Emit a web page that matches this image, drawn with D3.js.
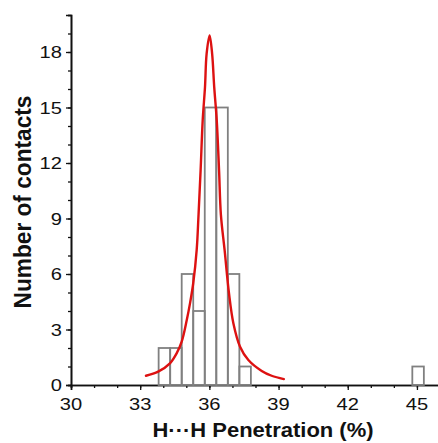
<!DOCTYPE html>
<html>
<head>
<meta charset="utf-8">
<script src="https://cdn.jsdelivr.net/npm/d3@7"></script>
<style>
  html, body { margin: 0; padding: 0; background: #fff; }
  svg { display: block; }
  text { font-family: "Liberation Sans", Arial, Helvetica, sans-serif; fill: #111; }
</style>
</head>
<body>
<svg id="chart" width="438" height="443"></svg>
<script>
// ---- data ----
const binStart = [33.3, 33.8, 34.3, 34.8, 35.3, 35.8, 36.3, 36.8, 37.3, 37.8, 38.3, 38.8,
                  39.3, 39.8, 40.3, 40.8, 41.3, 41.8, 42.3, 42.8, 43.3, 43.8, 44.3, 44.8];
const binWidth = 0.5;
const counts   = [0, 2, 2, 6, 4, 15, 15, 6, 1, 0, 0, 0,
                  0, 0, 0, 0, 0, 0, 0, 0, 0, 0, 0, 1];
const fitX = [33.25, 33.78, 34.29, 34.58, 34.80, 35.02, 35.16, 35.30, 35.45, 35.53, 35.62, 35.71,
              35.81, 35.88, 36.01, 36.12, 36.21, 36.32, 36.42, 36.50, 36.66, 36.85, 37.04, 37.33,
              37.69, 38.27, 38.70, 39.23];
const fitY = [0.50, 0.72, 1.17, 1.71, 2.34, 3.51, 4.41, 5.50, 7.30, 9.20, 11.6, 14.3,
              16.1, 17.9, 18.9, 17.9, 16.1, 14.3, 11.6, 9.20, 7.30, 4.96, 3.34, 2.07,
              1.35, 0.76, 0.50, 0.32];
const xTicks = [30, 33, 36, 39, 42, 45];
const yTicks = [0, 3, 6, 9, 12, 15, 18];
const xLabel = "H\u00B7\u00B7\u00B7H Penetration (%)";
const yLabel = "Number of contacts";

// ---- layout ----
const svg = d3.select("#chart");
const x = d3.scaleLinear().domain([30, 46]).range([71, 440]);
const y = d3.scaleLinear().domain([0, 20]).range([385, 15]);

const bars = binStart.map((s, i) => ({ s, c: counts[i] }));

// axes
const xAxisMinor = d3.axisBottom(x).tickValues(d3.range(30, 47, 1)).tickSize(3).tickFormat("");
const xAxisMajor = d3.axisBottom(x).tickValues(xTicks).tickSize(5).tickFormat("");
const yAxisMinor = d3.axisLeft(y).tickValues(d3.range(0, 21, 1)).tickSize(3).tickFormat("");
const yAxisMajor = d3.axisLeft(y).tickValues(yTicks).tickSize(5).tickFormat("");

function styleAxis(g) {
  g.selectAll("path").attr("stroke", "#111").attr("stroke-width", 1.6);
  g.selectAll("line").attr("stroke", "#111").attr("stroke-width", 1.3);
}
svg.append("g").attr("transform", `translate(0,${y(0)})`).call(xAxisMinor).call(styleAxis);
svg.append("g").attr("transform", `translate(0,${y(0)})`).call(xAxisMajor).call(styleAxis);
svg.append("g").attr("transform", `translate(${x(30)},0)`).call(yAxisMinor).call(styleAxis);
svg.append("g").attr("transform", `translate(${x(30)},0)`).call(yAxisMajor).call(styleAxis);

// histogram bars (outlined)
svg.append("g").selectAll("rect").data(bars).join("rect")
  .attr("x", d => x(d.s))
  .attr("y", d => y(d.c))
  .attr("width", d => x(d.s + binWidth) - x(d.s))
  .attr("height", d => y(0) - y(d.c))
  .attr("fill", "none")
  .attr("stroke", "#808080")
  .attr("stroke-width", 1.8);

// fitted curve
const pts = fitX.map((v, i) => [v, fitY[i]]);
svg.append("path")
  .attr("d", d3.line().x(d => x(d[0])).y(d => y(d[1])).curve(d3.curveCatmullRom.alpha(0.5))(pts))
  .attr("fill", "none")
  .attr("stroke", "#dd1111")
  .attr("stroke-width", 2.4)
  .attr("stroke-linecap", "round");

// tick labels
const tickFS = 16.5, sx = 1.22;
svg.append("g").selectAll("text").data(xTicks).join("text")
  .attr("transform", d => `translate(${x(d)},410) scale(${sx},1)`)
  .attr("text-anchor", "middle")
  .attr("font-size", tickFS)
  .text(d => d);
svg.append("g").selectAll("text").data(yTicks).join("text")
  .attr("transform", d => `translate(62,${y(d) + 6}) scale(${sx},1)`)
  .attr("text-anchor", "end")
  .attr("font-size", tickFS)
  .text(d => d);

// axis titles
svg.append("text")
  .attr("transform", `translate(263,437) scale(1.1,1)`)
  .attr("text-anchor", "middle")
  .attr("font-size", 20)
  .attr("font-weight", "bold")
  .text(xLabel);
svg.append("text")
  .attr("transform", `translate(31,202) rotate(-90) scale(1.08,1.12)`)
  .attr("text-anchor", "middle")
  .attr("font-size", 21)
  .attr("font-weight", "bold")
  .text(yLabel);
</script>
</body>
</html>
